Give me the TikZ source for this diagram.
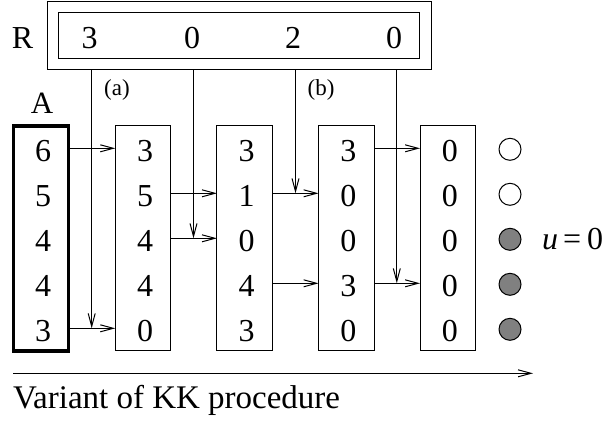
\documentclass[tikz,border=0pt]{standalone}
\usepackage{fontspec}
\setmainfont{Liberation Serif}
\usetikzlibrary{arrows.meta}
\begin{document}
\begin{tikzpicture}[x=1pt,y=-1pt,
  every node/.style={inner sep=0pt, outer sep=0pt},
  big/.style={font=\fontsize{32}{38}\selectfont},
  small/.style={font=\fontsize{23}{27}\selectfont},
  colbox/.style={draw, line width=1pt, minimum width=55.5pt, minimum height=225pt},
  arr/.style={line width=1pt, -{Straight Barb[length=13pt,width=7pt,line width=1pt]}},
  dot/.style={circle, draw, line width=1pt, minimum size=22pt},
]
\useasboundingbox (0,0) rectangle (609,421);
% R boxes
\node[draw, line width=1pt, minimum width=384pt, minimum height=68pt] (Rout) at (239,35) {};
\node[draw, line width=1pt, minimum width=361pt, minimum height=46pt] (Rin) at (238.5,35) {};
\node[big, anchor=base] (Rlab) at (22.5,48) {R};
\node[big, anchor=base] (r1) at (89.5,48) {3};
\node[big, anchor=base] (r2) at (192,48) {0};
\node[big, anchor=base] (r3) at (293,48) {2};
\node[big, anchor=base] (r4) at (394,48) {0};
% labels
\node[small] (la) at (117,90) {(a)};
\node[small] (lb) at (321,90) {(b)};
\node[font=\fontsize{31}{36}\selectfont, anchor=base] (Alab) at (42,113) {A};
% columns
\node[colbox, line width=3.2pt] (c0) at (41,238.4) {};
\node[colbox] (c1) at (143,238.4) {};
\node[colbox] (c2) at (244.7,238.4) {};
\node[colbox] (c3) at (346.3,238.4) {};
\node[colbox] (c4) at (447.8,238.4) {};
% rows
\coordinate (y1) at (0,148.3);
\coordinate (y2) at (0,193.3);
\coordinate (y3) at (0,238.3);
\coordinate (y4) at (0,283.3);
\coordinate (y5) at (0,328.3);
% cell values
\foreach \c/\vals in {0/{6,5,4,4,3},1/{3,5,4,4,0},2/{3,1,0,4,3},3/{3,0,0,3,0},4/{0,0,0,0,0}}{
  \foreach \v [count=\r] in \vals {
    \node[big, anchor=base, xshift=2pt, yshift=-13pt] (c\c r\r) at (c\c.center |- y\r) {\v};
  }
}
% circles
\node[dot] (d1) at (510,149.3) {};
\node[dot] (d2) at (510,194.3) {};
\node[dot, fill=black!50] (d3) at (510,239.3) {};
\node[dot, fill=black!50] (d4) at (510,284.3) {};
\node[dot, fill=black!50] (d5) at (510,329.3) {};
\node[big, anchor=base west] (ueq) at (542,249) {\itshape u\kern5pt\upshape=\kern6pt0};
% vertical arrows from R
\coordinate (v1) at (91.7,69);
\coordinate (v2) at (193.5,69);
\coordinate (v3) at (295.5,69);
\coordinate (v4) at (396.8,69);
\draw[arr] (v1) -- (v1 |- y5);
\draw[arr] (v2) -- (v2 |- y3);
\draw[arr] (v3) -- (v3 |- y2);
\draw[arr] (v4) -- (v4 |- y4);
% horizontal arrows
\draw[arr] (c0.east |- y1) -- (c1.west |- y1);
\draw[arr] (c0.east |- y5) -- (c1.west |- y5);
\draw[arr] (c1.east |- y2) -- (c2.west |- y2);
\draw[arr] (c1.east |- y3) -- (c2.west |- y3);
\draw[arr] (c2.east |- y2) -- (c3.west |- y2);
\draw[arr] (c2.east |- y4) -- (c3.west |- y4);
\draw[arr] (c3.east |- y1) -- (c4.west |- y1);
\draw[arr] (c3.east |- y4) -- (c4.west |- y4);
% bottom arrow and caption
\coordinate (s) at (13,373.3);
\coordinate (e) at (533,373.3);
\draw[arr] (s) -- (e);
\node[font=\fontsize{33}{40}\selectfont, anchor=base west] (cap) at (13,408) {Variant of KK procedure};
\end{tikzpicture}
\end{document}
